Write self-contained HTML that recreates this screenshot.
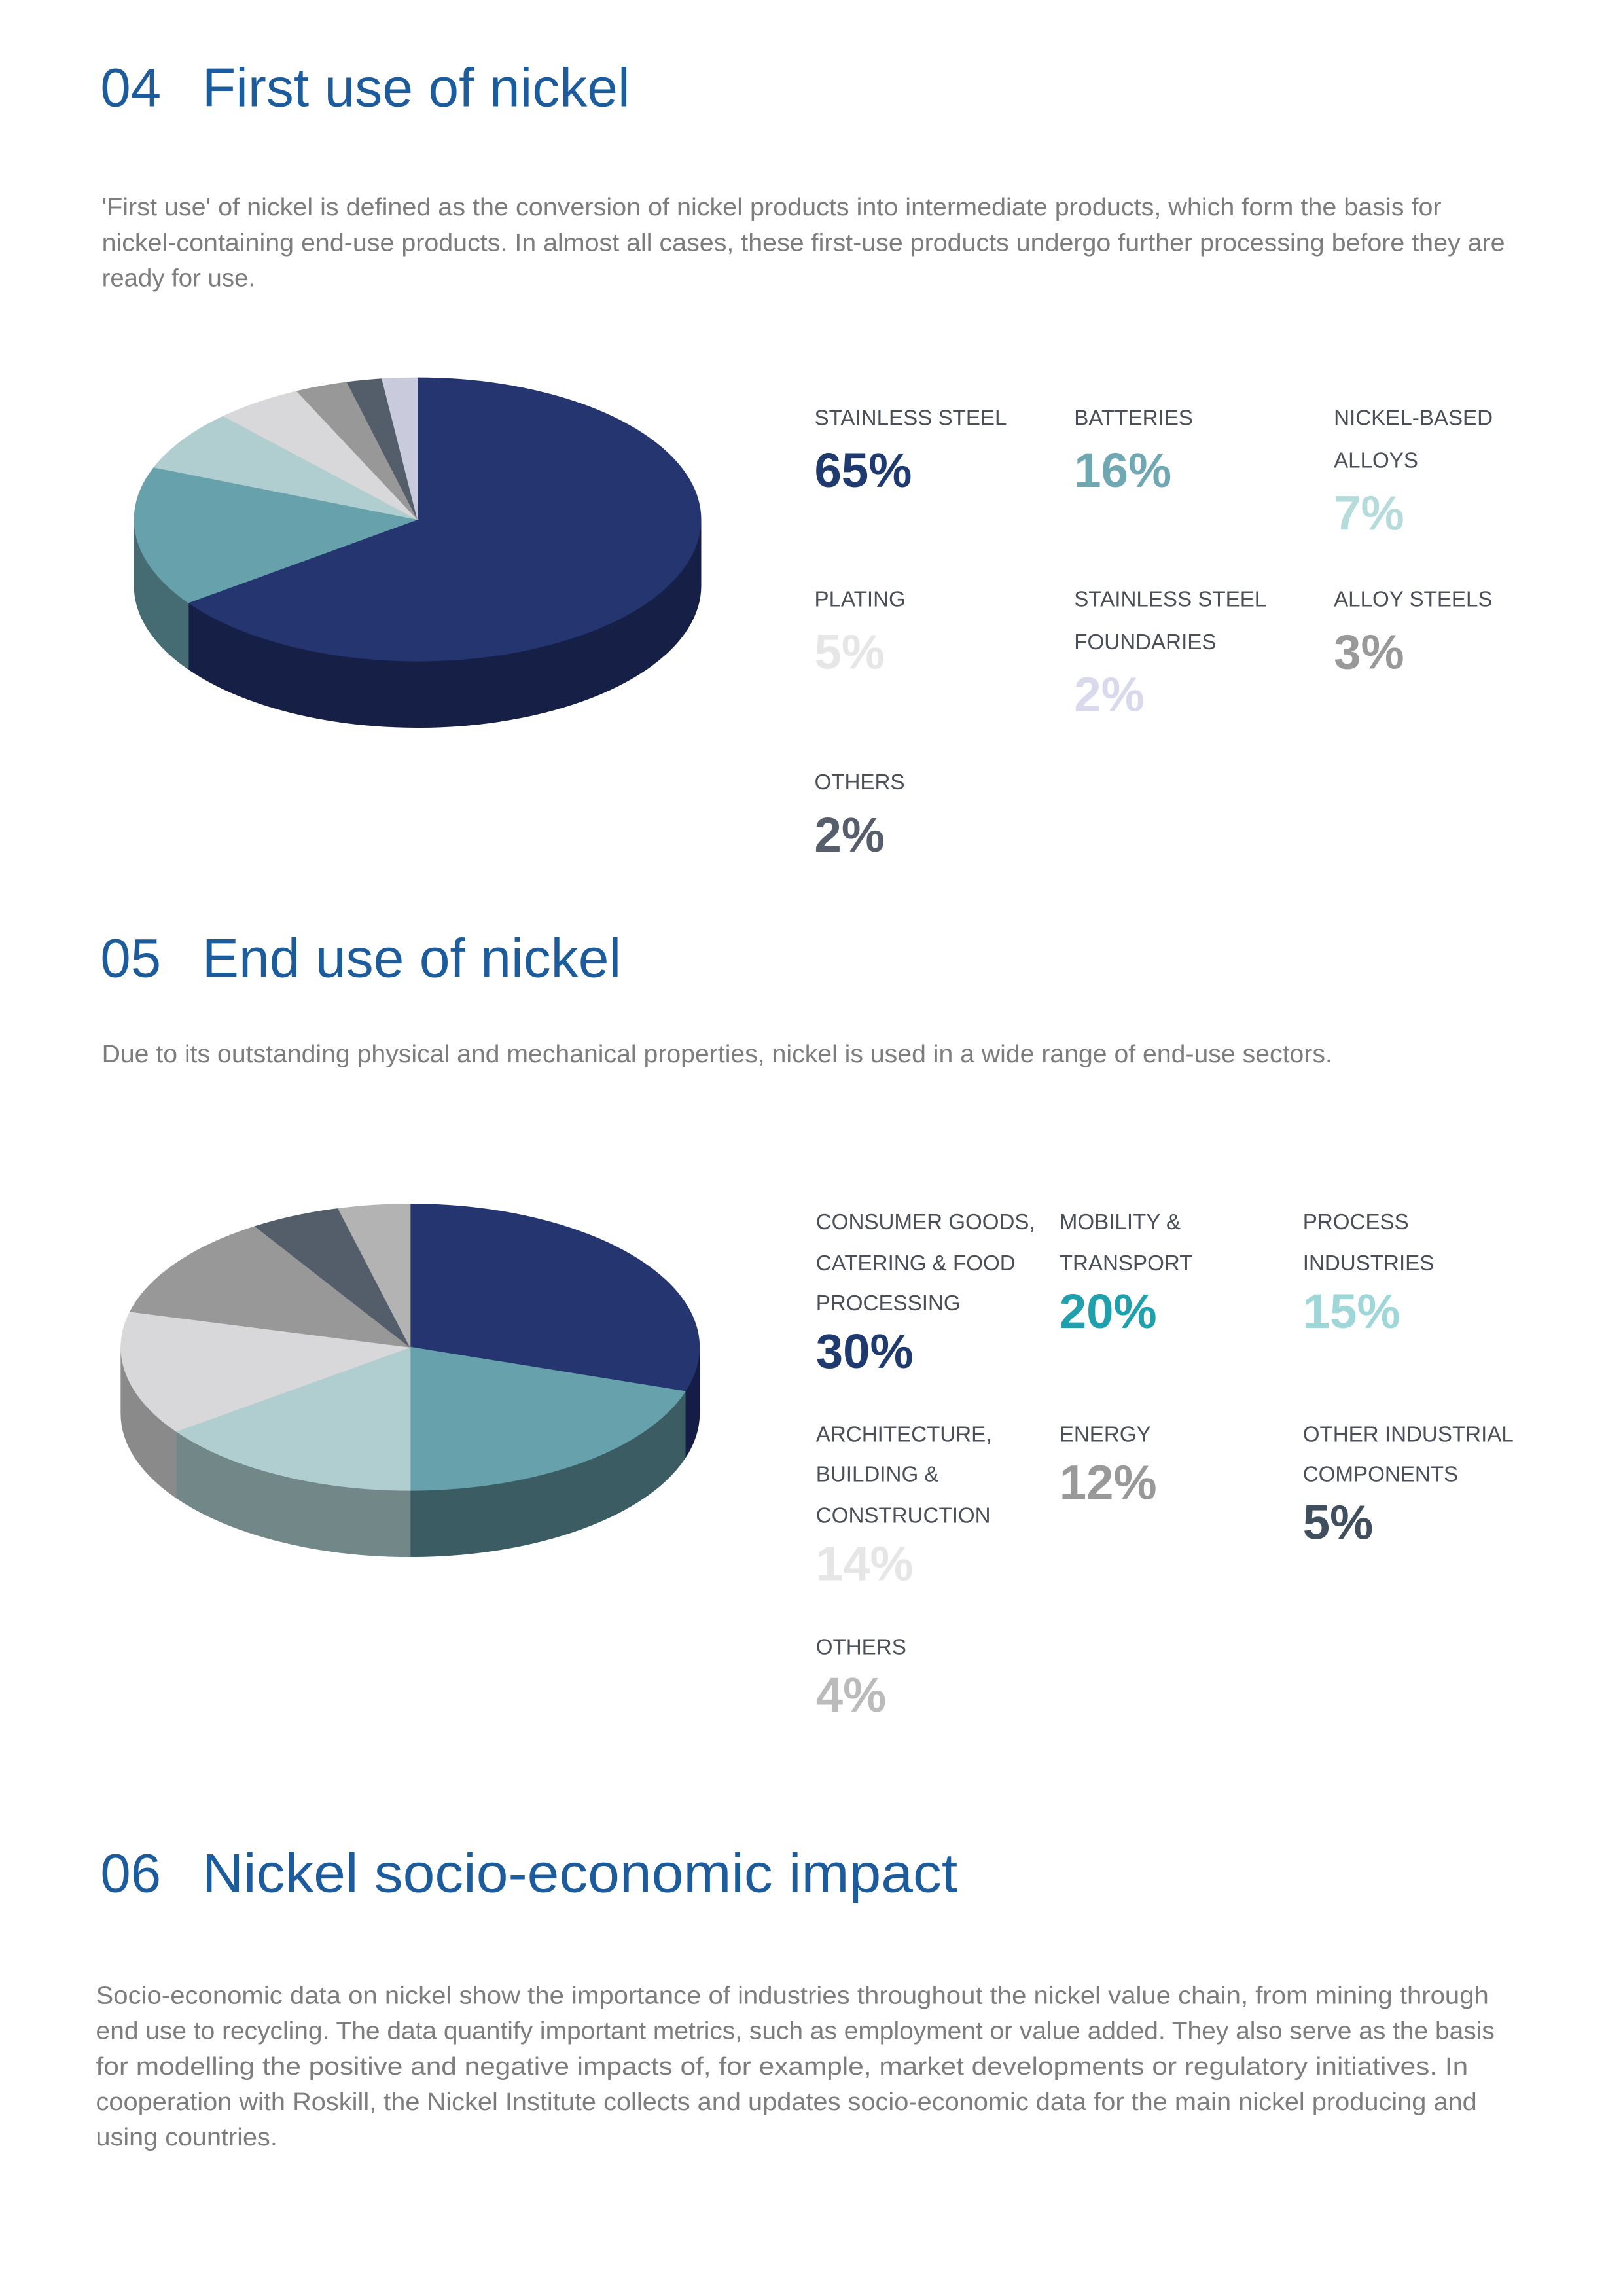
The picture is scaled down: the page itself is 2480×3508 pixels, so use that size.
<!DOCTYPE html>
<html><head><meta charset="utf-8"><style>
html,body{margin:0;padding:0;background:#fff}
svg{display:block}
.h{font-family:"Liberation Sans",sans-serif;fill:#1d5c9c;font-size:37px}
.b{font-family:"Liberation Sans",sans-serif;fill:#7d7d7d;font-size:17px}
.l{font-family:"Liberation Sans Narrow","Liberation Sans",sans-serif;fill:#4a4f58;font-size:14.7px}
.p{font-family:"Liberation Sans",sans-serif;font-weight:bold;font-size:33px}
</style></head><body>
<svg id="s" width="2480" height="3508" viewBox="0 0 1100 1556" xmlns="http://www.w3.org/2000/svg">
<text class="h" x="68" y="72">04</text><text class="h" x="137" y="72" textLength="290" lengthAdjust="spacingAndGlyphs">First use of nickel</text>
<text class="b" x="69" y="146" textLength="908" lengthAdjust="spacingAndGlyphs">'First use' of nickel is defined as the conversion of nickel products into intermediate products, which form the basis for</text>
<text class="b" x="69" y="170" textLength="951" lengthAdjust="spacingAndGlyphs">nickel-containing end-use products. In almost all cases, these first-use products undergo further processing before they are</text>
<text class="b" x="69" y="194" textLength="104" lengthAdjust="spacingAndGlyphs">ready for use.</text>

<g id="pie1"></g>
<text class="l" x="552" y="288">STAINLESS STEEL</text><text class="p" x="552" y="330" fill="#1f3a6e">65%</text>
<text class="l" x="728" y="288">BATTERIES</text><text class="p" x="728" y="330" fill="#6fa8b3">16%</text>
<text class="l" x="904" y="288">NICKEL-BASED</text><text class="l" x="904" y="317">ALLOYS</text><text class="p" x="904" y="359" fill="#b5dcda">7%</text>
<text class="l" x="552" y="411">PLATING</text><text class="p" x="552" y="453" fill="#e6e6e6">5%</text>
<text class="l" x="728" y="411">STAINLESS STEEL</text><text class="l" x="728" y="440">FOUNDARIES</text><text class="p" x="728" y="482" fill="#d8d9ec">2%</text>
<text class="l" x="904" y="411">ALLOY STEELS</text><text class="p" x="904" y="453" fill="#999999">3%</text>
<text class="l" x="552" y="535">OTHERS</text><text class="p" x="552" y="577" fill="#555e6a">2%</text>

<text class="h" x="68" y="662">05</text><text class="h" x="137" y="662" textLength="284" lengthAdjust="spacingAndGlyphs">End use of nickel</text>
<text class="b" x="69" y="720" textLength="834" lengthAdjust="spacingAndGlyphs">Due to its outstanding physical and mechanical properties, nickel is used in a wide range of end-use sectors.</text>

<g id="pie2"></g>
<text class="l" x="553" y="833">CONSUMER GOODS,</text><text class="l" x="553" y="861">CATERING &amp; FOOD</text><text class="l" x="553" y="888">PROCESSING</text><text class="p" x="553" y="927" fill="#1f3a6e">30%</text>
<text class="l" x="718" y="833">MOBILITY &amp;</text><text class="l" x="718" y="861">TRANSPORT</text><text class="p" x="718" y="900" fill="#1fa0ac">20%</text>
<text class="l" x="883" y="833">PROCESS</text><text class="l" x="883" y="861">INDUSTRIES</text><text class="p" x="883" y="900" fill="#9fd6d8">15%</text>
<text class="l" x="553" y="977">ARCHITECTURE,</text><text class="l" x="553" y="1004">BUILDING &amp;</text><text class="l" x="553" y="1032">CONSTRUCTION</text><text class="p" x="553" y="1071" fill="#e6e6e6">14%</text>
<text class="l" x="718" y="977">ENERGY</text><text class="p" x="718" y="1016" fill="#999999">12%</text>
<text class="l" x="883" y="977">OTHER INDUSTRIAL</text><text class="l" x="883" y="1004">COMPONENTS</text><text class="p" x="883" y="1043" fill="#3f4f5d">5%</text>
<text class="l" x="553" y="1121">OTHERS</text><text class="p" x="553" y="1160" fill="#bbbbbb">4%</text>

<text class="h" x="68" y="1282">06</text><text class="h" x="137" y="1282" textLength="512" lengthAdjust="spacingAndGlyphs">Nickel socio-economic impact</text>
<text class="b" x="65" y="1358" textLength="944" lengthAdjust="spacingAndGlyphs">Socio-economic data on nickel show the importance of industries throughout the nickel value chain, from mining through</text>
<text class="b" x="65" y="1382" textLength="948" lengthAdjust="spacingAndGlyphs">end use to recycling. The data quantify important metrics, such as employment or value added. They also serve as the basis</text>
<text class="b" x="65" y="1406" textLength="930" lengthAdjust="spacingAndGlyphs">for modelling the positive and negative impacts of, for example, market developments or regulatory initiatives. In</text>
<text class="b" x="65" y="1430" textLength="936" lengthAdjust="spacingAndGlyphs">cooperation with Roskill, the Nickel Institute collects and updates socio-economic data for the main nickel producing and</text>
<text class="b" x="65" y="1454" textLength="123" lengthAdjust="spacingAndGlyphs">using countries.</text>
</svg>
<script>
function pie(id,cx,cy,rx,ry,d,sl){
 var g=document.getElementById(id),NS="http://www.w3.org/2000/svg";
 function pt(a,dy){var r=a*Math.PI/180;return (cx+rx*Math.cos(r)).toFixed(2)+","+(cy+ry*Math.sin(r)+(dy||0)).toFixed(2);}
 var a=-90,out=[];
 sl.forEach(function(s){var a2=a+s[0]*3.6;out.push([a,a2,s[1],s[2]]);a=a2;});
 out.forEach(function(o){
  var lo=Math.max(o[0],0),hi=Math.min(o[1],180);
  if(hi>lo){var p=document.createElementNS(NS,"path");
   var large=(hi-lo)>180?1:0;
   p.setAttribute("d","M"+pt(lo)+" A"+rx+","+ry+" 0 "+large+" 1 "+pt(hi)+" L"+pt(hi,d)+" A"+rx+","+ry+" 0 "+large+" 0 "+pt(lo,d)+"Z");
   p.setAttribute("fill",o[3]);p.setAttribute("stroke",o[3]);p.setAttribute("stroke-width","0.5");g.appendChild(p);}
 });
 out.forEach(function(o){var p=document.createElementNS(NS,"path");
  var large=(o[1]-o[0])>180?1:0;
  p.setAttribute("d","M"+cx+","+cy+" L"+pt(o[0])+" A"+rx+","+ry+" 0 "+large+" 1 "+pt(o[1])+"Z");
  p.setAttribute("fill",o[2]);p.setAttribute("stroke",o[2]);p.setAttribute("stroke-width","0.5");g.appendChild(p);});
}
pie("pie1",283,352,192,96,45,[[65,"#253570","#161f45"],[16,"#67a2ac","#456b73"],[7,"#b0cdcf","#7c9294"],[5,"#d8d8da","#999"],[3,"#989898","#666"],[2,"#535e6a","#333"],[2,"#c9cbdc","#888"]]);
pie("pie2",278,913,196,97,45,[[30,"#253570","#151c45"],[20,"#67a2ac","#3a5c62"],[15,"#b0cdcf","#728888"],[14,"#d8d8da","#8a8a8a"],[12,"#989898","#666"],[5,"#535e6a","#333"],[4,"#b3b3b3","#777"]]);
</script>
</body></html>
